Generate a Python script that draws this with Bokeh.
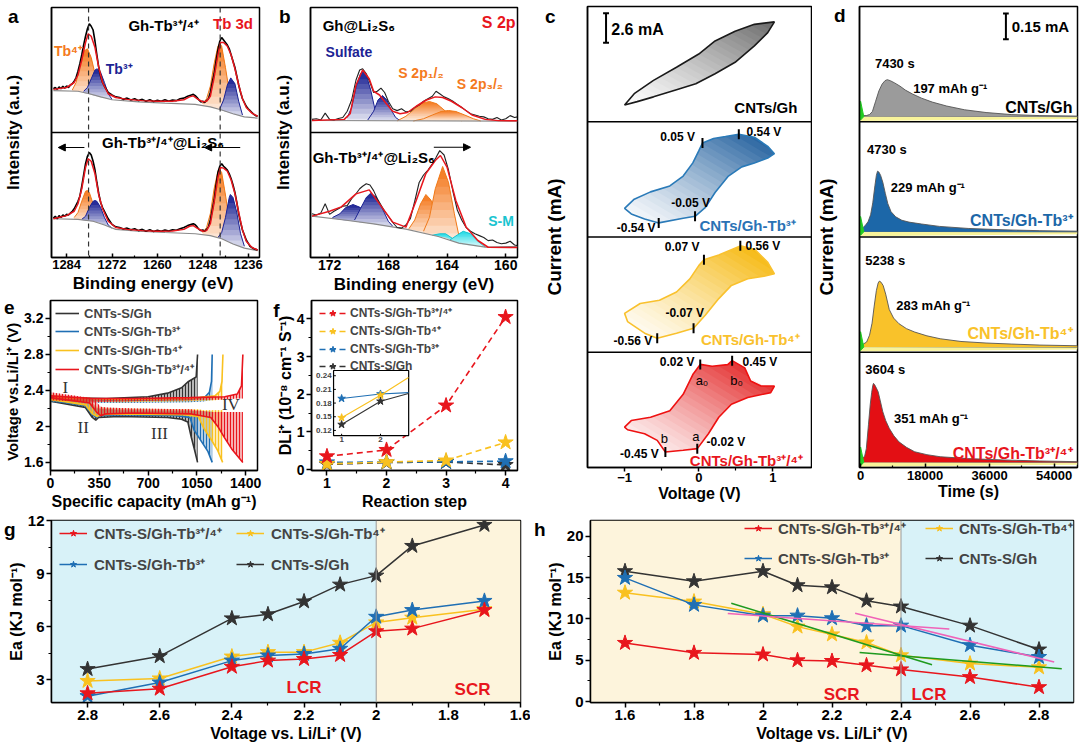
import math
from bokeh.plotting import figure
from bokeh.models import (Range1d, Span, Label, Legend, LegendItem, Arrow, NormalHead, FixedTicker,
                          LinearAxis)
from bokeh.layouts import row, column
from bokeh.embed import file_html
from bokeh.resources import INLINE

FONT = "Liberation Sans"
SERIF = "Liberation Serif"
RED = "#e8161d"; YEL = "#f9c11f"; BLU = "#1f6fb4"; BLK = "#333333"
ORANGE = "#f47a20"; NAVY = "#1c2394"; CYAN = "#25dbe6"

# ---------------- panel a (Tb 3d XPS) ----------------
A_BE_RAW = [1287.5, 1287, 1286.5, 1286, 1285.5, 1285, 1284.5, 1284, 1283.5, 1283,
            1282.5, 1282, 1281.5, 1281, 1280.5, 1280, 1279.5, 1279, 1278.5, 1278,
            1277.5, 1277, 1276.5, 1276, 1275.5, 1275, 1274.5, 1274, 1273, 1272,
            1271, 1270, 1269, 1268, 1267, 1266, 1265, 1264, 1263, 1262,
            1261, 1260, 1259, 1258, 1257, 1256, 1255, 1254, 1253, 1252,
            1251, 1250.5, 1250, 1249.5, 1249, 1248.5, 1248, 1247.5, 1247, 1246.5,
            1246, 1245.5, 1245, 1244.5, 1244, 1243.5, 1243, 1242.5, 1242, 1241.5,
            1241, 1240.5, 1240, 1239.5, 1239, 1238.5, 1238, 1237.5, 1237, 1236.5,
            1236, 1235.5, 1235, 1234.5, 1234, 1233.5]
A_TOP_RAW = [0.35, 0.36, 0.345, 0.365, 0.35, 0.37, 0.355, 0.372, 0.36, 0.38,
             0.39, 0.41, 0.44, 0.49, 0.55, 0.62, 0.70, 0.77, 0.83, 0.87,
             0.85, 0.82, 0.73, 0.62, 0.52, 0.45, 0.40, 0.37, 0.32, 0.30,
             0.285, 0.28, 0.265, 0.275, 0.26, 0.27, 0.255, 0.265, 0.25, 0.262,
             0.248, 0.258, 0.25, 0.262, 0.25, 0.26, 0.255, 0.27, 0.275, 0.29,
             0.30, 0.305, 0.295, 0.28, 0.26, 0.245, 0.25, 0.24, 0.255, 0.27,
             0.32, 0.40, 0.47, 0.57, 0.66, 0.73, 0.76, 0.74, 0.72, 0.70,
             0.67, 0.62, 0.57, 0.52, 0.45, 0.38, 0.32, 0.27, 0.24, 0.21,
             0.19, 0.175, 0.16, 0.145, 0.135, 0.13]
A_BOT_RAW = [0.315, 0.33, 0.31, 0.335, 0.32, 0.34, 0.33, 0.345, 0.34, 0.355,
             0.37, 0.39, 0.42, 0.45, 0.49, 0.57, 0.66, 0.75, 0.81, 0.84,
             0.82, 0.77, 0.70, 0.60, 0.51, 0.44, 0.40, 0.37, 0.31, 0.265,
             0.245, 0.24, 0.228, 0.235, 0.222, 0.23, 0.215, 0.225, 0.21, 0.222,
             0.208, 0.218, 0.21, 0.22, 0.212, 0.222, 0.218, 0.23, 0.24, 0.255,
             0.265, 0.27, 0.262, 0.245, 0.225, 0.215, 0.22, 0.21, 0.225, 0.245,
             0.30, 0.38, 0.46, 0.58, 0.68, 0.73, 0.75, 0.73, 0.715, 0.70,
             0.67, 0.63, 0.58, 0.52, 0.44, 0.35, 0.28, 0.22, 0.18, 0.14,
             0.115, 0.09, 0.08, 0.07, 0.065, 0.06]
A_BE_FIT = [1287.5, 1284, 1282, 1281, 1280, 1279, 1278.3, 1277.5, 1276.5, 1275.5, 1274.5, 1273,
            1271, 1268, 1264, 1260, 1256, 1253, 1251.5, 1250.5, 1249.5, 1248, 1247, 1246,
            1245, 1244, 1243.3, 1242.5, 1241.5, 1240.5, 1239.5, 1238.5, 1237.5, 1236.5, 1235, 1233.5]
A_TOP_FIT = [0.345, 0.36, 0.40, 0.46, 0.58, 0.72, 0.79, 0.77, 0.68, 0.52, 0.40, 0.31,
             0.28, 0.265, 0.255, 0.25, 0.25, 0.262, 0.285, 0.293, 0.27, 0.245, 0.25, 0.29,
             0.44, 0.62, 0.72, 0.72, 0.69, 0.62, 0.51, 0.38, 0.27, 0.2, 0.155, 0.13]
A_BOT_FIT = [0.31, 0.335, 0.37, 0.43, 0.55, 0.72, 0.79, 0.77, 0.67, 0.50, 0.39, 0.29,
             0.24, 0.225, 0.215, 0.21, 0.212, 0.225, 0.25, 0.255, 0.235, 0.21, 0.215, 0.27,
             0.44, 0.64, 0.72, 0.715, 0.69, 0.62, 0.51, 0.36, 0.22, 0.13, 0.08, 0.06]
A_BG_TOP_X = [1287.5, 1281, 1278, 1275, 1272, 1265, 1258, 1250, 1246, 1243, 1240, 1237, 1233.5]
A_BG_TOP_Y = [0.335, 0.33, 0.31, 0.285, 0.262, 0.245, 0.235, 0.225, 0.205, 0.18, 0.15, 0.125, 0.115]
A_BG_BOT_X = [1287.5, 1281, 1277, 1274, 1271, 1265, 1258, 1250, 1246, 1243, 1240, 1237, 1233.5]
A_BG_BOT_Y = [0.31, 0.305, 0.29, 0.26, 0.225, 0.21, 0.2, 0.19, 0.175, 0.15, 0.108, 0.075, 0.055]
A_T_TB4_1_X = [1282.5, 1281.5, 1280.5, 1279.5, 1278.5, 1277.5, 1276.5, 1275.5, 1274.5]
A_T_TB4_1_Y = [0.34, 0.40, 0.53, 0.65, 0.67, 0.60, 0.47, 0.36, 0.29]
A_T_TB4_1_B = [0.332, 0.33, 0.326, 0.318, 0.31, 0.302, 0.294, 0.285, 0.277]
A_T_TB3_1_X = [1279.5, 1278.5, 1277.5, 1276.5, 1275.9, 1275, 1274, 1273, 1272]
A_T_TB3_1_Y = [0.33, 0.36, 0.43, 0.50, 0.51, 0.48, 0.40, 0.31, 0.265]
A_T_TB3_1_B = [0.316, 0.31, 0.302, 0.294, 0.289, 0.283, 0.276, 0.27, 0.262]
A_T_TB4_2_X = [1248, 1247, 1246, 1245, 1244, 1243.5, 1243, 1242, 1241, 1240]
A_T_TB4_2_Y = [0.23, 0.27, 0.37, 0.55, 0.69, 0.715, 0.69, 0.52, 0.33, 0.16]
A_T_TB4_2_B = [0.218, 0.212, 0.205, 0.197, 0.188, 0.184, 0.18, 0.17, 0.16, 0.15]
A_T_TB3_2_X = [1243.5, 1242.5, 1241.5, 1240.6, 1239.5, 1238.5, 1237.5]
A_T_TB3_2_Y = [0.19, 0.26, 0.38, 0.437, 0.39, 0.25, 0.14]
A_T_TB3_2_B = [0.184, 0.173, 0.163, 0.152, 0.142, 0.133, 0.127]
A_B_TB4_1_X = [1282, 1281, 1280, 1279, 1278.5, 1278, 1277, 1276, 1275]
A_B_TB4_1_Y = [0.32, 0.36, 0.45, 0.53, 0.536, 0.52, 0.43, 0.33, 0.28]
A_B_TB4_1_B = [0.305, 0.303, 0.3, 0.296, 0.294, 0.292, 0.29, 0.28, 0.27]
A_B_TB3_1_X = [1280, 1279, 1278, 1277, 1276.5, 1276, 1275, 1274, 1273, 1272]
A_B_TB3_1_Y = [0.305, 0.33, 0.40, 0.45, 0.456, 0.45, 0.40, 0.32, 0.26, 0.235]
A_B_TB3_1_B = [0.3, 0.296, 0.292, 0.29, 0.288, 0.285, 0.275, 0.26, 0.245, 0.232]
A_B_TB4_2_X = [1248, 1247, 1246, 1245, 1244, 1243.7, 1243, 1242, 1241, 1240]
A_B_TB4_2_Y = [0.2, 0.24, 0.35, 0.55, 0.69, 0.71, 0.68, 0.5, 0.3, 0.15]
A_B_TB4_2_B = [0.185, 0.18, 0.175, 0.168, 0.158, 0.155, 0.15, 0.138, 0.122, 0.108]
A_B_TB3_2_X = [1244, 1243, 1242, 1241, 1240.7, 1240, 1239, 1238, 1237]
A_B_TB3_2_Y = [0.16, 0.2, 0.32, 0.48, 0.504, 0.48, 0.36, 0.19, 0.09]
A_B_TB3_2_B = [0.158, 0.15, 0.138, 0.122, 0.115, 0.108, 0.095, 0.085, 0.075]
A_PEAK_LINES = [1278.2, 1243.4]

# ---------------- panel b (S 2p XPS) ----------------
B_BE_RAW = [173.2, 172.9, 172.6, 172.3, 172.0, 171.7, 171.4, 171.1, 170.8, 170.5,
            170.2, 169.95, 169.75, 169.5, 169.25, 169.0, 168.75, 168.5, 168.25, 168.0,
            167.7, 167.4, 167.1, 166.8, 166.5, 166.2, 165.9, 165.6, 165.3, 165.0,
            164.75, 164.5, 164.2, 163.9, 163.6, 163.3, 163.0, 162.7, 162.4, 162.1,
            161.8, 161.5, 161.2, 160.9, 160.6, 160.3, 160.0, 159.7, 159.4, 159.2]
B_TOP_RAW = [0.105, 0.11, 0.1, 0.155, 0.105, 0.1, 0.112, 0.12, 0.17, 0.26,
             0.42, 0.5, 0.51, 0.47, 0.4, 0.32, 0.33, 0.355, 0.32, 0.25,
             0.19, 0.175, 0.19, 0.165, 0.17, 0.2, 0.22, 0.25, 0.27, 0.29,
             0.33, 0.31, 0.285, 0.27, 0.25, 0.225, 0.2, 0.175, 0.15, 0.14,
             0.13, 0.125, 0.11, 0.105, 0.12, 0.1, 0.11, 0.135, 0.12, 0.125]
B_BOT_RAW = [0.35, 0.34, 0.355, 0.43, 0.345, 0.37, 0.39, 0.41, 0.415, 0.47,
             0.51, 0.55, 0.57, 0.59, 0.58, 0.535, 0.47, 0.42, 0.37, 0.33,
             0.28, 0.24, 0.235, 0.26, 0.31, 0.45, 0.6, 0.66, 0.7, 0.75,
             0.8, 0.855, 0.82, 0.7, 0.53, 0.38, 0.3, 0.24, 0.21, 0.19,
             0.175, 0.16, 0.135, 0.14, 0.12, 0.11, 0.115, 0.13, 0.1, 0.095]
B_BE_FIT_TOP = [173.2, 171.0, 170.6, 170.2, 169.75, 169.3, 169.0, 168.6, 168.2, 167.7, 167.2,
                166.7, 166.1, 165.4, 164.8, 164.3, 163.7, 163.0, 162.3, 161.4, 160.5, 159.2]
B_TOP_FIT = [0.096, 0.105, 0.15, 0.38, 0.5, 0.43, 0.33, 0.3, 0.24, 0.17, 0.15,
             0.16, 0.21, 0.26, 0.285, 0.28, 0.25, 0.2, 0.14, 0.105, 0.095, 0.094]
B_BE_FIT_BOT = [173.2, 172.0, 171.2, 170.2, 169.3, 168.6, 167.7, 166.8, 166.1, 165.45, 164.8,
                164.45, 164.0, 163.4, 162.7, 161.9, 161.2, 159.2]
B_BOT_FIT = [0.331, 0.37, 0.405, 0.509, 0.541, 0.429, 0.283, 0.243, 0.456, 0.669, 0.776,
             0.816, 0.723, 0.456, 0.243, 0.136, 0.082, 0.08]
B_BG_TOP_X = [173.2, 159.2]
B_BG_TOP_Y = [0.096, 0.09]
B_BG_BOT_X = [173.2, 171, 169, 166.8, 164.6, 163.2, 161.4, 159.2]
B_BG_BOT_Y = [0.331, 0.3, 0.269, 0.227, 0.168, 0.115, 0.083, 0.088]
B_T_SUL1_X = [170.8, 170.5, 170.2, 169.9, 169.7, 169.5, 169.2, 168.9, 168.6]
B_T_SUL1_Y = [0.12, 0.2, 0.36, 0.47, 0.49, 0.46, 0.34, 0.18, 0.1]
B_T_SUL1_B = [0.095, 0.095, 0.095, 0.095, 0.095, 0.095, 0.094, 0.094, 0.094]
B_T_SUL2_X = [169.4, 169.0, 168.7, 168.4, 168.1, 167.8, 167.5, 167.2]
B_T_SUL2_Y = [0.1, 0.17, 0.26, 0.296, 0.26, 0.18, 0.12, 0.095]
B_T_SUL2_B = [0.094, 0.094, 0.094, 0.094, 0.094, 0.094, 0.094, 0.094]
B_T_S12_X = [167.4, 166.8, 166.2, 165.7, 165.2, 164.7, 164.2, 163.6, 163.0]
B_T_S12_Y = [0.093, 0.13, 0.19, 0.235, 0.248, 0.23, 0.18, 0.12, 0.093]
B_T_S12_B = [0.093, 0.093, 0.093, 0.093, 0.093, 0.092, 0.092, 0.092, 0.092]
B_T_S32_X = [166.3, 165.6, 165.0, 164.4, 163.9, 163.4, 162.8, 162.2, 161.7]
B_T_S32_Y = [0.092, 0.11, 0.14, 0.168, 0.176, 0.168, 0.14, 0.11, 0.092]
B_T_S32_B = [0.092, 0.092, 0.092, 0.092, 0.092, 0.092, 0.091, 0.091, 0.091]
B_B_SUL1_X = [171.8, 171.3, 170.9, 170.4, 169.9, 169.4, 168.9, 168.3]
B_B_SUL1_Y = [0.32, 0.35, 0.40, 0.424, 0.40, 0.34, 0.29, 0.26]
B_B_SUL1_B = [0.312, 0.303, 0.297, 0.29, 0.283, 0.275, 0.267, 0.256]
B_B_SUL2_X = [170.3, 169.9, 169.5, 169.2, 168.8, 168.4, 168.0, 167.7]
B_B_SUL2_Y = [0.3, 0.39, 0.48, 0.515, 0.48, 0.39, 0.29, 0.25]
B_B_SUL2_B = [0.288, 0.283, 0.277, 0.271, 0.264, 0.256, 0.248, 0.243]
B_B_S1_X = [166.6, 166.2, 165.8, 165.44, 165.1, 164.7, 164.4, 164.1]
B_B_S1_Y = [0.23, 0.3, 0.43, 0.504, 0.46, 0.33, 0.22, 0.17]
B_B_S1_B = [0.227, 0.218, 0.207, 0.197, 0.19, 0.18, 0.173, 0.165]
B_B_S2_X = [165.6, 165.2, 164.8, 164.3, 163.9, 163.5, 163.2, 162.9]
B_B_S2_Y = [0.21, 0.32, 0.55, 0.728, 0.6, 0.35, 0.18, 0.11]
B_B_S2_B = [0.195, 0.186, 0.177, 0.165, 0.148, 0.13, 0.115, 0.105]
B_B_SM1_X = [165.0, 164.5, 164.1, 163.6, 163.1]
B_B_SM1_Y = [0.178, 0.19, 0.19, 0.15, 0.11]
B_B_SM1_B = [0.178, 0.168, 0.16, 0.135, 0.11]
B_B_SM2_X = [163.8, 163.3, 162.9, 162.4, 161.9, 161.4]
B_B_SM2_Y = [0.14, 0.18, 0.21, 0.19, 0.13, 0.083]
B_B_SM2_B = [0.14, 0.12, 0.105, 0.095, 0.088, 0.083]

# ---------------- panel c (CV loops, V vs mA) ----------------
C_GH_V = [-1.0, -0.87, -0.61, -0.30, 0.0, 0.22, 0.49, 0.75, 1.02, 0.93, 0.75, 0.49, 0.22, -0.04, -0.30, -0.61, -0.83]
C_GH_I = [-3.6, -2.6, -1.43, -0.28, 0.89, 2.04, 2.9, 3.5, 3.72, 2.77, 1.6, 0.16, -0.85, -1.72, -2.25, -2.88, -3.3]
C_T3_V = [-1.0, -0.87, -0.65, -0.39, -0.21, -0.08, 0.0, 0.05, 0.2, 0.36, 0.54, 0.75, 0.93, 1.02,
          0.93, 0.75, 0.58, 0.40, 0.22, 0.09, -0.05, -0.21, -0.54, -0.73, -0.91]
C_T3_I = [-2.55, -1.74, -1.1, -0.58, 0.29, 1.45, 2.5, 3.2, 3.6, 3.77, 3.97, 3.71, 2.9, 2.26,
          1.88, 1.45, 1.1, 0.29, -1.16, -2.46, -3.25, -3.42, -3.83, -3.48, -3.04]
C_T3_MK_V = [0.05, 0.54, -0.05, -0.54]
C_T3_MK_I = [3.2, 3.97, -3.25, -3.83]
C_T4_V = [-1.0, -0.79, -0.53, -0.30, -0.12, 0.0, 0.07, 0.27, 0.56, 0.75, 0.93, 1.02,
          0.88, 0.66, 0.44, 0.27, 0.09, -0.07, -0.30, -0.56, -0.73, -0.96]
C_T4_I = [-1.65, -0.78, -0.5, 0.23, 1.39, 2.55, 3.07, 3.48, 4.29, 4.0, 2.84, 1.83,
          1.63, 1.39, 0.81, -0.35, -1.8, -2.96, -3.39, -3.83, -3.39, -2.37]
C_T4_MK_V = [0.07, 0.56, -0.07, -0.56]
C_T4_MK_I = [3.07, 4.29, -2.96, -3.83]
C_T34_V = [-1.0, -0.91, -0.65, -0.39, -0.21, -0.08, 0.02, 0.18, 0.39, 0.45, 0.62, 0.70, 0.84, 1.02,
           0.97, 0.66, 0.44, 0.27, 0.13, -0.02, -0.21, -0.45, -0.56, -0.73, -0.96]
C_T34_I = [-1.52, -0.94, -0.65, -0.07, 1.37, 3.11, 4.0, 3.84, 3.98, 4.33, 3.7, 2.54, 2.1, 2.1,
           1.52, 1.09, 0.5, -0.65, -2.1, -3.41, -3.55, -3.7, -2.68, -2.1, -1.75]
C_T34_MK_V = [0.02, 0.45, -0.02, -0.45]
C_T34_MK_I = [4.0, 4.33, -3.41, -3.7]
C_BAND = (-5.07, 5.07)
C_SCALE_V, C_SCALE_I0, C_SCALE_LEN = -1.25, 1.87, 2.6

# ---------------- panel d (chronoamperometry) ----------------
D_GH_T = [0, 800, 1600, 2500, 3300, 4200, 5100, 6000, 6800, 7430, 8300, 9500, 11000, 12500, 14500,
          17000, 20000, 24000, 29000, 35000, 42000, 50000, 60500]
D_GH_I = [0.012, 0.006, 0.006, 0.012, 0.03, 0.09, 0.15, 0.19, 0.21, 0.216, 0.21, 0.197, 0.178, 0.155,
          0.132, 0.108, 0.085, 0.062, 0.04, 0.024, 0.012, 0.006, 0.003]
D_T3_T = [0, 700, 1400, 2100, 2800, 3400, 4000, 4400, 4730, 5100, 5600, 6200, 6900, 7600, 8500, 9800,
          11500, 13500, 17000, 22000, 30000, 40000, 50000, 60500]
D_T3_I = [0.012, 0.025, 0.04, 0.06, 0.1, 0.17, 0.27, 0.33, 0.355, 0.35, 0.33, 0.29, 0.225, 0.165, 0.118,
          0.088, 0.068, 0.057, 0.046, 0.032, 0.02, 0.012, 0.007, 0.004]
D_T4_T = [0, 800, 1700, 2500, 3200, 3800, 4400, 4900, 5238, 5700, 6300, 7000, 8000, 9200, 10700, 12800,
          15100, 18500, 22200, 28000, 35000, 42000, 50000, 60500]
D_T4_I = [0.012, 0.018, 0.03, 0.07, 0.14, 0.24, 0.33, 0.375, 0.386, 0.38, 0.36, 0.31, 0.22, 0.17, 0.137,
          0.108, 0.088, 0.066, 0.049, 0.033, 0.024, 0.018, 0.012, 0.008]
D_T34_T = [0, 600, 1100, 1600, 2200, 2700, 3100, 3400, 3604, 3900, 4400, 4900, 5500, 6200, 7000, 8000,
           9300, 10700, 12800, 15100, 18500, 22200, 30000, 40000, 50000, 60500]
D_T34_I = [0.02, 0.028, 0.033, 0.08, 0.22, 0.34, 0.41, 0.45, 0.462, 0.455, 0.435, 0.413, 0.36, 0.296,
           0.245, 0.199, 0.155, 0.12, 0.088, 0.062, 0.045, 0.033, 0.022, 0.014, 0.008, 0.004]
D_STRIP_T = [0, 60500]
D_STRIP_LO = [-0.026, -0.014]
D_STRIP_HI = [0.003, 0.0]
D_SPIKE_T = [0, 0, 900]
D_SPIKE_I = [-0.02, 0.09, 0.0]
D_BAND = (-0.03, 0.644)
D_SCALE_T, D_SCALE_I0, D_SCALE_LEN = 40533, 0.453, 0.15

# ---------------- panel e (GITT) ----------------
E_GH_DIS_CAP = [0, 250, 300, 325, 345, 490, 840, 940, 985, 1010, 1035, 1055]
E_GH_DIS_CCV = [2.28, 2.21, 2.1, 2.07, 2.1, 2.11, 2.1, 2.08, 2.05, 1.88, 1.73, 1.6]
E_GH_DIS_OCV = [2.34, 2.3, 2.25, 2.2, 2.2, 2.18, 2.17, 2.17, 2.17, 2.17, 2.17, 2.17]
E_GH_CHG_CAP = [0, 400, 700, 840, 940, 990, 1045, 1055]
E_GH_CHG_CCV = [2.32, 2.31, 2.33, 2.37, 2.43, 2.5, 2.55, 2.8]
E_GH_CHG_OCV = [2.28, 2.28, 2.29, 2.3, 2.3, 2.31, 2.31, 2.31]
E_T3_DIS_CAP = [0, 250, 300, 330, 350, 500, 900, 1000, 1030, 1080, 1130, 1160]
E_T3_DIS_CCV = [2.29, 2.23, 2.13, 2.1, 2.12, 2.13, 2.12, 2.1, 1.96, 1.84, 1.72, 1.6]
E_T3_DIS_OCV = [2.35, 2.31, 2.26, 2.21, 2.2, 2.19, 2.18, 2.18, 2.17, 2.17, 2.17, 2.17]
E_T3_CHG_CAP = [0, 500, 1000, 1110, 1140, 1155, 1160]
E_T3_CHG_CCV = [2.31, 2.29, 2.3, 2.33, 2.38, 2.5, 2.8]
E_T3_CHG_OCV = [2.27, 2.26, 2.27, 2.28, 2.29, 2.29, 2.29]
E_T4_DIS_CAP = [0, 250, 300, 335, 355, 500, 950, 1060, 1100, 1150, 1200, 1235]
E_T4_DIS_CCV = [2.3, 2.24, 2.14, 2.11, 2.13, 2.14, 2.13, 2.11, 1.98, 1.86, 1.73, 1.6]
E_T4_DIS_OCV = [2.36, 2.31, 2.26, 2.22, 2.21, 2.2, 2.19, 2.19, 2.18, 2.18, 2.18, 2.18]
E_T4_CHG_CAP = [0, 500, 1000, 1180, 1215, 1230, 1237]
E_T4_CHG_CCV = [2.32, 2.3, 2.31, 2.34, 2.39, 2.5, 2.8]
E_T4_CHG_OCV = [2.28, 2.27, 2.28, 2.29, 2.3, 2.3, 2.3]
E_T34_DIS_CAP = [0, 280, 330, 360, 400, 600, 1000, 1150, 1200, 1250, 1300, 1380]
E_T34_DIS_CCV = [2.32, 2.26, 2.16, 2.12, 2.14, 2.15, 2.14, 2.1, 2.0, 1.87, 1.75, 1.6]
E_T34_DIS_OCV = [2.38, 2.32, 2.27, 2.22, 2.21, 2.2, 2.19, 2.16, 2.16, 2.16, 2.16, 2.16]
E_T34_CHG_CAP = [0, 300, 600, 1000, 1250, 1340, 1370, 1380]
E_T34_CHG_CCV = [2.34, 2.31, 2.31, 2.32, 2.33, 2.36, 2.45, 2.8]
E_T34_CHG_OCV = [2.29, 2.27, 2.28, 2.29, 2.3, 2.31, 2.31, 2.31]

# ---------------- panel f (diffusion coefficient) ----------------
F_STEP = [1, 2, 3, 4]
F_T34 = [0.35, 0.52, 1.7, 4.05]
F_T4 = [0.15, 0.197, 0.24, 0.72]
F_T3 = [0.19, 0.2, 0.205, 0.22]
F_GH = [0.135, 0.185, 0.2, 0.12]
F_INSET_X = [1, 2, 2.72]
F_INSET_T3 = [0.19, 0.2, 0.203]
F_INSET_T4 = [0.148, 0.197, 0.236]
F_INSET_GH = [0.133, 0.184, 0.201]
F_INSET_YTICKS = [0.12, 0.15, 0.18, 0.21, 0.24]
F_INSET_XTICKS = [1, 2]
F_INSET_BOX = (0.7925, 2.725, 0.1086, 0.2514)

# ---------------- panel g / h (activation energy) ----------------
G_V = [2.8, 2.6, 2.4, 2.3, 2.2, 2.1, 2.0, 1.9, 1.7]
G_GH = [3.61, 4.34, 6.48, 6.71, 7.44, 8.39, 8.9, 10.58, 11.77]
G_T3 = [2.08, 2.85, 4.09, 4.38, 4.47, 4.76, 6.57, 6.95, 7.47]
G_T4 = [2.94, 3.08, 4.32, 4.57, 4.57, 5.1, 6.25, 6.52, 7.0]
G_T34 = [2.24, 2.5, 3.74, 4.09, 4.18, 4.41, 5.75, 5.9, 6.95]
G_REGION_EDGES = [2.9, 2.0, 1.6]
H_V = [1.6, 1.8, 2.0, 2.1, 2.2, 2.3, 2.4, 2.6, 2.8]
H_GH = [15.77, 14.55, 15.77, 14.07, 13.82, 12.2, 11.5, 9.19, 6.3]
H_T3 = [14.96, 11.7, 10.4, 10.4, 10.08, 9.19, 9.19, 6.83, 5.4]
H_T4 = [13.17, 12.1, 10.57, 9.07, 8.13, 7.15, 5.6, 4.6, 4.15]
H_T34 = [7.1, 5.9, 5.7, 5.0, 4.92, 4.39, 3.9, 2.97, 1.75]
H_REGION_EDGES = [1.5, 2.4, 2.9]
H_FIT_GREEN = [([1.908, 2.49], [11.9, 4.47]), ([2.28, 2.866], [5.93, 3.98])]
H_FIT_PINK = [([1.898, 2.54], [10.65, 8.78]), ([2.267, 2.844], [10.69, 4.8])]

LBL_T34 = "CNTs-S/Gh-Tb³⁺/⁴⁺"
LBL_T4 = "CNTs-S/Gh-Tb⁴⁺"
LBL_T3 = "CNTs-S/Gh-Tb³⁺"
LBL_GH = "CNTs-S/Gh"


# ---------------- helpers ----------------
def mix(hexcol, f):
    h = hexcol.lstrip("#")
    r, g, b = int(h[0:2], 16), int(h[2:4], 16), int(h[4:6], 16)
    f = max(0.0, min(1.0, f))
    return "#%02x%02x%02x" % (round(255 + (r - 255) * f), round(255 + (g - 255) * f), round(255 + (b - 255) * f))


def clip(pts, a, b, c):
    out = []
    n = len(pts)
    for k in range(n):
        P = pts[k]
        Q = pts[(k + 1) % n]
        fp = a * P[0] + b * P[1] - c
        fq = a * Q[0] + b * Q[1] - c
        if fp <= 0:
            out.append(P)
        if (fp < 0 < fq) or (fq < 0 < fp):
            s = fp / (fp - fq)
            out.append((P[0] + s * (Q[0] - P[0]), P[1] + s * (Q[1] - P[1])))
    return out


def gradient_fill(p, xs, ys, color, mode, n, yname="default", fmin=0.0, fmax=1.0, gamma=1.0):
    xmin, xmax, ymin, ymax = min(xs), max(xs), min(ys), max(ys)
    dx, dy = xmax - xmin, ymax - ymin
    pts = [((x - xmin) / dx, (y - ymin) / dy) for x, y in zip(xs, ys)]
    PX, PY, COL = [], [], []
    for k in range(n):
        t0, t1 = k / n, (k + 1) / n
        t0e = max(0.0, t0 - 0.6 / n)
        if mode == "diag":
            q = clip(pts, -1, -1, -2 * t0e)
            q = clip(q, 1, 1, 2 * t1)
        else:
            q = clip(pts, 0, -1, -t0e)
            q = clip(q, 0, 1, t1)
        if len(q) < 3:
            continue
        PX.append([xmin + u * dx for u, w in q])
        PY.append([ymin + w * dy for u, w in q])
        COL.append(mix(color, fmin + (fmax - fmin) * (((t0 + t1) / 2) ** gamma)))
    p.patches(xs=PX, ys=PY, fill_color=COL, line_color=None, y_range_name=yname)


def peak(p, x, top, base, color, line_col, yname):
    gradient_fill(p, x + x[::-1], top + base[::-1], color, "vert", 10, yname, fmin=0.06, fmax=1.0)
    p.line(x, top, line_color=line_col, line_width=1, y_range_name=yname)


def band_range(lo, hi, k, n=4):
    s = hi - lo
    return Range1d(lo - (n - 1 - k) * s, hi + k * s)


def base_fig(w, h, xr, yr, bl, br, bt, bb):
    p = figure(width=w, height=h, x_range=xr, y_range=yr, output_backend="svg", toolbar_location=None,
               min_border_left=bl, min_border_right=br, min_border_top=bt, min_border_bottom=bb)
    p.grid.visible = False
    p.outline_line_color = "black"
    p.outline_line_width = 1.5
    p.outline_line_alpha = 1.0
    return p


def style_axes(p, tick_size, label_size, xlabel, ylabel, xticks, xminor, yticks, yminor,
               tick_in=False, xstand=2, ystand=2, ylabel_size=None, tick_out=5, lab_standoff=2):
    xa, ya = p.xaxis[0], p.yaxis[0]
    xa.ticker = FixedTicker(ticks=xticks, minor_ticks=xminor)
    ya.ticker = FixedTicker(ticks=yticks, minor_ticks=yminor)
    for ax in (xa, ya):
        ax.axis_line_width = 1.5
        ax.axis_line_color = "black"
        ax.major_tick_line_width = 1.5
        ax.minor_tick_line_width = 1.2
        ax.major_label_text_font = FONT
        ax.major_label_text_font_style = "bold"
        ax.major_label_text_font_size = tick_size
        ax.major_label_text_color = "black"
        ax.axis_label_text_font = FONT
        ax.axis_label_text_font_style = "bold"
        ax.axis_label_text_font_size = label_size
        ax.axis_label_text_color = "black"
        ax.major_label_standoff = lab_standoff
        if tick_in:
            ax.major_tick_in, ax.major_tick_out = 4, 0
            ax.minor_tick_in, ax.minor_tick_out = 2, 0
        else:
            ax.major_tick_in, ax.major_tick_out = 0, tick_out
            ax.minor_tick_in, ax.minor_tick_out = 0, 3
    if ylabel_size:
        ya.axis_label_text_font_size = ylabel_size
    xa.axis_label = xlabel
    ya.axis_label = ylabel
    xa.axis_label_standoff = xstand
    ya.axis_label_standoff = ystand


def letter_main(p, ch, yval, standoff, label_standoff):
    # panel letter drawn as the only tick label of an otherwise tick-less y axis
    ya = p.yaxis[0]
    ya.ticker = FixedTicker(ticks=[yval], minor_ticks=[])
    ya.major_label_overrides = {yval: ch}
    ya.major_tick_line_color = None
    ya.minor_tick_line_color = None
    ya.major_tick_in, ya.major_tick_out = 0, 0
    ya.minor_tick_in, ya.minor_tick_out = 0, 0
    ya.major_label_text_font_size = "19px"
    ya.major_label_standoff = standoff
    ya.axis_label_standoff = label_standoff


def letter_outer(p, ch, yval, pull):
    # panel letter drawn by an extra, otherwise empty, outer y axis
    ax = LinearAxis(ticker=FixedTicker(ticks=[yval], minor_ticks=[]), major_label_overrides={yval: ch},
                    axis_line_color=None, major_tick_line_color=None, minor_tick_line_color=None,
                    major_tick_in=0, major_tick_out=0, minor_tick_in=0, minor_tick_out=0,
                    major_label_standoff=-pull, major_label_text_font=FONT,
                    major_label_text_font_style="bold", major_label_text_font_size="19px",
                    major_label_text_color="black")
    p.add_layout(ax, "left")


def lab(p, x, y, text, size=13, color="black", align="left", yname="default", style="bold", font=FONT):
    p.add_layout(Label(x=x, y=y, text=text, text_font=font, text_font_size="%dpx" % size,
                       text_font_style=style, text_color=color, text_align=align,
                       text_baseline="middle", y_range_name=yname))


def legend(p, items, loc, orient="vertical", size="15px", gw=28, gh=16, lw=20, spacing=2, standoff=6,
           line_height=1.2):
    lg = Legend(items=items, location=loc, orientation=orient, label_text_font=FONT,
                label_text_font_style="bold", label_text_font_size=size, glyph_width=gw,
                glyph_height=gh, label_height=gh, label_width=lw, spacing=spacing, padding=0,
                margin=0, label_standoff=standoff, background_fill_alpha=0, border_line_alpha=0,
                label_text_line_height=line_height)
    p.add_layout(lg)


def divider(p, loc):
    p.add_layout(Span(location=loc, dimension="width", line_color="black", line_width=1.5))


# ================= panel a =================
pa = base_fig(270, 298, Range1d(1288, 1233), Range1d(0, 2), 48, 11, 7, 41)
pa.extra_y_ranges = {"top": Range1d(-1, 1)}
for (x, t, b, c, lc, yn) in [
        (A_T_TB4_1_X, A_T_TB4_1_Y, A_T_TB4_1_B, ORANGE, "#f07a1a", "top"),
        (A_T_TB3_1_X, A_T_TB3_1_Y, A_T_TB3_1_B, NAVY, NAVY, "top"),
        (A_T_TB4_2_X, A_T_TB4_2_Y, A_T_TB4_2_B, ORANGE, "#f07a1a", "top"),
        (A_T_TB3_2_X, A_T_TB3_2_Y, A_T_TB3_2_B, NAVY, NAVY, "top"),
        (A_B_TB4_1_X, A_B_TB4_1_Y, A_B_TB4_1_B, ORANGE, "#f07a1a", "default"),
        (A_B_TB3_1_X, A_B_TB3_1_Y, A_B_TB3_1_B, NAVY, NAVY, "default"),
        (A_B_TB4_2_X, A_B_TB4_2_Y, A_B_TB4_2_B, ORANGE, "#f07a1a", "default"),
        (A_B_TB3_2_X, A_B_TB3_2_Y, A_B_TB3_2_B, NAVY, NAVY, "default")]:
    peak(pa, x, t, b, c, lc, yn)
pa.line(A_BG_TOP_X, A_BG_TOP_Y, line_color="#8a8a8a", line_width=1.2, y_range_name="top")
pa.line(A_BG_BOT_X, A_BG_BOT_Y, line_color="#8a8a8a", line_width=1.2)
pa.line(A_BE_RAW, A_TOP_RAW, line_color="black", line_width=1.6, y_range_name="top")
pa.line(A_BE_RAW, A_BOT_RAW, line_color="black", line_width=1.6)
pa.line(A_BE_FIT, A_TOP_FIT, line_color=RED, line_width=1.5, y_range_name="top")
pa.line(A_BE_FIT, A_BOT_FIT, line_color=RED, line_width=1.5)
for loc in A_PEAK_LINES:
    pa.add_layout(Span(location=loc, dimension="height", line_color="#333333", line_width=1.2, line_dash="5 4"))
divider(pa, 1)
style_axes(pa, "13px", "17px", "Binding energy  (eV)", "Intensity (a.u.)",
           [1284, 1272, 1260, 1248, 1236], [1278, 1266, 1254, 1242], [], [], tick_in=True)
letter_main(pa, "a", 1.928, 33, -18)
lab(pa, 1283.5, 0.656, "Tb⁴⁺", 14, ORANGE, "center", "top")
lab(pa, 1270.1, 0.51, "Tb³⁺", 14, NAVY, "center", "top")
lab(pa, 1258.3, 0.856, "Gh-Tb³⁺/⁴⁺", 15, "black", "center", "top")
lab(pa, 1240.0, 0.87, "Tb 3d", 15, RED, "center", "top")
lab(pa, 1258.5, 0.922, "Gh-Tb³⁺/⁴⁺@Li₂S₆", 15, "black", "center")
for xs, xe in [(1279.3, 1286.2), (1238.1, 1247.5)]:
    pa.add_layout(Arrow(end=NormalHead(size=7, fill_color="black", line_color="black"),
                        x_start=xs, y_start=0.88, x_end=xe, y_end=0.88, line_width=1.2))

# ================= panel b =================
pb = base_fig(270, 298, Range1d(173.3, 159.2), Range1d(0, 2), 36, 23, 7, 41)
pb.extra_y_ranges = {"top": Range1d(-1, 1)}
for (x, t, b, c, lc, yn) in [
        (B_T_SUL1_X, B_T_SUL1_Y, B_T_SUL1_B, NAVY, NAVY, "top"),
        (B_T_SUL2_X, B_T_SUL2_Y, B_T_SUL2_B, NAVY, NAVY, "top"),
        (B_T_S12_X, B_T_S12_Y, B_T_S12_B, ORANGE, "#f07a1a", "top"),
        (B_T_S32_X, B_T_S32_Y, B_T_S32_B, ORANGE, "#f07a1a", "top"),
        (B_B_SUL1_X, B_B_SUL1_Y, B_B_SUL1_B, NAVY, NAVY, "default"),
        (B_B_SUL2_X, B_B_SUL2_Y, B_B_SUL2_B, NAVY, NAVY, "default"),
        (B_B_S1_X, B_B_S1_Y, B_B_S1_B, ORANGE, "#f07a1a", "default"),
        (B_B_S2_X, B_B_S2_Y, B_B_S2_B, ORANGE, "#f07a1a", "default"),
        (B_B_SM1_X, B_B_SM1_Y, B_B_SM1_B, CYAN, "#19c4d0", "default"),
        (B_B_SM2_X, B_B_SM2_Y, B_B_SM2_B, CYAN, "#19c4d0", "default")]:
    peak(pb, x, t, b, c, lc, yn)
pb.line(B_BG_TOP_X, B_BG_TOP_Y, line_color="#8a8a8a", line_width=1.2, y_range_name="top")
pb.line(B_BG_BOT_X, B_BG_BOT_Y, line_color="#8a8a8a", line_width=1.2)
pb.line(B_BE_RAW, B_TOP_RAW, line_color="#222222", line_width=1.1, y_range_name="top")
pb.line(B_BE_RAW, B_BOT_RAW, line_color="#222222", line_width=1.1)
pb.line(B_BE_FIT_TOP, B_TOP_FIT, line_color=RED, line_width=1.5, y_range_name="top")
pb.line(B_BE_FIT_BOT, B_BOT_FIT, line_color=RED, line_width=1.5)
divider(pb, 1)
style_axes(pb, "14px", "17px", "Binding energy (eV)", "Intensity (a.u.)",
           [172, 168, 164, 160], [170, 166, 162], [], [], tick_in=True)
letter_main(pb, "b", 1.928, 20, -17)
lab(pb, 172.47, 0.856, "Gh@Li₂S₆", 15, "black", "left", "top")
lab(pb, 159.33, 0.88, "S 2p", 16, RED, "right", "top")
lab(pb, 172.27, 0.648, "Sulfate", 14, NAVY, "left", "top")
lab(pb, 167.33, 0.48, "S 2p₁/₂", 14, ORANGE, "left", "top")
lab(pb, 163.33, 0.392, "S 2p₃/₂", 14, ORANGE, "left", "top")
lab(pb, 173.15, 0.8, "Gh-Tb³⁺/⁴⁺@Li₂S₆", 15, "black", "left")
lab(pb, 161.2, 0.296, "S-M", 14, "#19c4d0", "left")
pb.add_layout(Arrow(end=NormalHead(size=7, fill_color="black", line_color="black"),
                    x_start=164.9, y_start=0.882, x_end=162.4, y_end=0.882, line_width=1.2))

# ================= panel c =================
pc = base_fig(272, 512, Range1d(-1.5, 1.52), Range1d(0, 4), 42, 1, 5, 41)
pc.extra_y_ranges = {"c%d" % k: band_range(C_BAND[0], C_BAND[1], k) for k in range(4)}
c_loops = [(C_GH_V, C_GH_I, "#6e6e6e", "#1a1a1a", None, None),
           (C_T3_V, C_T3_I, "#1a5a9a", "#2a7ab8", C_T3_MK_V, C_T3_MK_I),
           (C_T4_V, C_T4_I, "#f5b400", "#f9c12e", C_T4_MK_V, C_T4_MK_I),
           (C_T34_V, C_T34_I, "#e01010", "#ee1111", C_T34_MK_V, C_T34_MK_I)]
for k, (v, i, fc, lc, mv, mi) in enumerate(c_loops):
    yn = "c%d" % k
    gradient_fill(pc, v, i, fc, "diag", 26, yn, fmin=0.0, fmax=1.0, gamma=1.3)
    pc.patch(v, i, fill_alpha=0, line_color=lc, line_width=1.6, y_range_name=yn)
    if mv:
        pc.scatter(mv, mi, marker="dash", angle=math.pi / 2, size=10, line_color="black",
                   line_width=2, y_range_name=yn)
for loc in (1, 2, 3):
    divider(pc, loc)
pc.segment(x0=[C_SCALE_V, C_SCALE_V - 0.04, C_SCALE_V - 0.04],
           y0=[C_SCALE_I0, C_SCALE_I0, C_SCALE_I0 + C_SCALE_LEN],
           x1=[C_SCALE_V, C_SCALE_V + 0.04, C_SCALE_V + 0.04],
           y1=[C_SCALE_I0 + C_SCALE_LEN, C_SCALE_I0, C_SCALE_I0 + C_SCALE_LEN],
           line_color="black", line_width=2, y_range_name="c0")
style_axes(pc, "13px", "16px", "Voltage (V)", "Current (mA)", [-1, 0, 1], [-0.5, 0.5], [], [],
           xstand=0, ylabel_size="19px", tick_out=4, lab_standoff=1)
letter_main(pc, "c", 3.914, 32, -23)
lab(pc, C_SCALE_V + 0.07, C_SCALE_I0 + C_SCALE_LEN / 2 - 0.1, "2.6 mA", 16, "black", "left", "c0")
lab(pc, 1.33, -3.8, "CNTs/Gh", 15, "black", "right", "c0")
lab(pc, -0.05, 3.7, "0.05 V", 12, "black", "right", "c1")
lab(pc, 0.645, 4.15, "0.54 V", 12, "black", "left", "c1")
lab(pc, -0.37, -2.1, "-0.05 V", 12, "black", "left", "c1")
lab(pc, -0.583, -4.3, "-0.54 V", 12, "black", "right", "c1")
lab(pc, 0.009, -4.1, "CNTs/Gh-Tb³⁺", 15, "#2a72b5", "left", "c1")
lab(pc, 0.009, 4.2, "0.07 V", 12, "black", "right", "c2")
lab(pc, 0.63, 4.3, "0.56 V", 12, "black", "left", "c2")
lab(pc, -0.45, -1.63, "-0.07 V", 12, "black", "left", "c2")
lab(pc, -0.627, -4.1, "-0.56 V", 12, "black", "right", "c2")
lab(pc, 0.03, -3.95, "CNTs/Gh-Tb⁴⁺", 15, "#f9c12e", "left", "c2")
lab(pc, -0.057, 4.24, "0.02 V", 12, "black", "right", "c3")
lab(pc, 0.59, 4.24, "0.45 V", 12, "black", "left", "c3")
lab(pc, 0.043, 2.56, "a₀", 13, "black", "center", "c3", "normal")
lab(pc, 0.51, 2.56, "b₀", 13, "black", "center", "c3", "normal")
lab(pc, -0.465, -2.5, "b", 13, "black", "center", "c3", "normal")
lab(pc, -0.04, -2.37, "a", 13, "black", "center", "c3", "normal")
lab(pc, 0.105, -2.8, "-0.02 V", 12, "black", "left", "c3")
lab(pc, -0.54, -3.88, "-0.45 V", 12, "black", "right", "c3")
lab(pc, -0.12, -4.45, "CNTs/Gh-Tb³⁺/⁴⁺", 15, RED, "left", "c3")

# ================= panel d =================
pd = base_fig(268, 512, Range1d(-300, 60500), Range1d(0, 4), 41, 3, 6, 45)
pd.extra_y_ranges = {"d%d" % k: band_range(D_BAND[0], D_BAND[1], k) for k in range(4)}
d_curves = [(D_GH_T, D_GH_I, "#9b9b9b"), (D_T3_T, D_T3_I, "#1c67a8"),
            (D_T4_T, D_T4_I, "#f9c22a"), (D_T34_T, D_T34_I, "#e30f14")]
for k, (t, cur, fc) in enumerate(d_curves):
    yn = "d%d" % k
    pd.varea(x=D_STRIP_T, y1=D_STRIP_LO, y2=D_STRIP_HI, fill_color="#f8f39a", y_range_name=yn)
    pd.line(D_STRIP_T, D_STRIP_HI, line_color="#666666", line_width=1, y_range_name=yn)
    pd.varea(x=t, y1=0, y2=cur, fill_color=fc, y_range_name=yn)
    pd.line(t, cur, line_color="#555555", line_width=0.9, y_range_name=yn)
    pd.patch(D_SPIKE_T, D_SPIKE_I, fill_color="#22cc22", line_color="#22cc22", y_range_name=yn)
for loc in (1, 2, 3):
    divider(pd, loc)
pd.segment(x0=[D_SCALE_T, D_SCALE_T - 800, D_SCALE_T - 800],
           y0=[D_SCALE_I0, D_SCALE_I0, D_SCALE_I0 + D_SCALE_LEN],
           x1=[D_SCALE_T, D_SCALE_T + 800, D_SCALE_T + 800],
           y1=[D_SCALE_I0 + D_SCALE_LEN, D_SCALE_I0, D_SCALE_I0 + D_SCALE_LEN],
           line_color="black", line_width=2, y_range_name="d0")
style_axes(pd, "13px", "16px", "Time (s)", "Current (mA)", [0, 18000, 36000, 54000],
           [9000, 27000, 45000], [], [], tick_in=True, xstand=0, ylabel_size="19px", lab_standoff=3)
letter_main(pd, "d", 3.922, 14, -6)
lab(pd, D_SCALE_T + 1600, D_SCALE_I0 + D_SCALE_LEN / 2, "0.15 mA", 15, "black", "left", "d0")
d_texts = [("7430 s", 4000, 0.311, "197 mAh g⁻¹", 14667, 0.164, "CNTs/Gh", 0.053, "black"),
           ("4730 s", 1778, 0.482, "229 mAh g⁻¹", 8444, 0.261, "CNTs/Gh-Tb³⁺", 0.066, "#1c67a8"),
           ("5238 s", 1333, 0.507, "283 mAh g⁻¹", 9956, 0.243, "CNTs/Gh-Tb⁴⁺", 0.078, "#f9c22a"),
           ("3604 s", 1333, 0.541, "351 mAh g⁻¹", 9333, 0.255, "CNTs/Gh-Tb³⁺/⁴⁺", 0.05, RED)]
for k, (t1, x1, y1, t2, x2, y2, t3, y3, col) in enumerate(d_texts):
    yn = "d%d" % k
    lab(pd, x1, y1, t1, 13, "black", "left", yn)
    lab(pd, x2, y2, t2, 13, "black", "left", yn)
    lab(pd, 59111, y3, t3, 16, col, "right", yn)

# ================= panel e =================
pe = base_fig(270, 214, Range1d(0, 1485), Range1d(1.51, 3.4), 48, 13, 2, 42)
e_series = [(BLK, E_GH_DIS_CAP, E_GH_DIS_CCV, E_GH_DIS_OCV, E_GH_CHG_CAP, E_GH_CHG_CCV, E_GH_CHG_OCV, LBL_GH),
            (BLU, E_T3_DIS_CAP, E_T3_DIS_CCV, E_T3_DIS_OCV, E_T3_CHG_CAP, E_T3_CHG_CCV, E_T3_CHG_OCV, LBL_T3),
            (YEL, E_T4_DIS_CAP, E_T4_DIS_CCV, E_T4_DIS_OCV, E_T4_CHG_CAP, E_T4_CHG_CCV, E_T4_CHG_OCV, LBL_T4),
            (RED, E_T34_DIS_CAP, E_T34_DIS_CCV, E_T34_DIS_OCV, E_T34_CHG_CAP, E_T34_CHG_CCV, E_T34_CHG_OCV, LBL_T34)]
e_items = []
for col, dc, dccv, docv, cc, cccv, cocv, lbl in e_series:
    for x, y1, y2 in ((dc, dccv, docv), (cc, cocv, cccv)):
        pe.varea(x=x, y1=y1, y2=y2, fill_color=col, fill_alpha=0.35, hatch_pattern="|",
                 hatch_color=col, hatch_scale=3, hatch_weight=1)
    r = pe.line(dc, dccv, line_color=col, line_width=1.6)
    pe.line(cc, cccv, line_color=col, line_width=1.6)
    e_items.append(LegendItem(label=lbl, renderers=[r]))
# a few trailing no-break spaces push the (centred) label text slightly down, as in the reference
style_axes(pe, "14px", "16px", "Specific capacity (mAh g⁻¹)", "Voltage vs.Li/Li⁺ (V)" + "\u00a0" * 3,
           [0, 350, 700, 1050, 1400], [175, 525, 875, 1225], [1.6, 2.0, 2.4, 2.8, 3.2],
           [1.8, 2.2, 2.6, 3.0], ystand=0, ylabel_size="15px")
letter_outer(pe, "e", 3.378, 13)
legend(pe, e_items, (5, 92), size="13px", gw=24, gh=16, spacing=1, standoff=5, line_height=1.0)
for txt, x, y in [("I", 107, 2.433), ("II", 235, 1.99), ("III", 782, 1.92), ("IV", 1294, 2.244)]:
    lab(pe, x, y, txt, 17, "#333333", "center", "default", "normal", SERIF)

# ================= panel f =================
pf = base_fig(270, 214, Range1d(0.74, 4.2), Range1d(-0.026, 4.49), 35, 23, 1, 39)
pf.extra_x_ranges = {"ix": Range1d(0.225, 5.525)}
pf.extra_y_ranges = {"iy": Range1d(0.0321, 0.405)}
f_items = []
for vals, col, lbl in [(F_GH, BLK, LBL_GH), (F_T3, BLU, LBL_T3), (F_T4, YEL, LBL_T4), (F_T34, RED, LBL_T34)]:
    rl = pf.line(F_STEP, vals, line_color=col, line_width=1.6, line_dash="6 4")
    rs = pf.scatter(F_STEP, vals, marker="star", size=16, fill_color=col, line_color=col)
    f_items.append(LegendItem(label=lbl, renderers=[rl, rs]))
bx0, bx1, by0, by1 = F_INSET_BOX
pf.quad(left=bx0, right=bx1, bottom=by0, top=by1, fill_color="white", line_color="black",
        line_width=1.2, x_range_name="ix", y_range_name="iy")
for vals, col in [(F_INSET_T3, BLU), (F_INSET_T4, YEL), (F_INSET_GH, BLK)]:
    pf.line(F_INSET_X, vals, line_color=col, line_width=1.1, x_range_name="ix", y_range_name="iy")
    pf.scatter(F_INSET_X[:2], vals[:2], marker="star", size=8, fill_color=col, line_color=col,
               x_range_name="ix", y_range_name="iy")
pf.segment(x0=[bx0] * len(F_INSET_YTICKS), y0=F_INSET_YTICKS, x1=[bx0 + 0.06] * len(F_INSET_YTICKS),
           y1=F_INSET_YTICKS, line_color="black", line_width=1, x_range_name="ix", y_range_name="iy")
pf.segment(x0=F_INSET_XTICKS, y0=[by0] * 2, x1=F_INSET_XTICKS, y1=[by0 + 0.004] * 2,
           line_color="black", line_width=1, x_range_name="ix", y_range_name="iy")
for tv in F_INSET_YTICKS:
    pf.add_layout(Label(x=bx0 - 0.05, y=tv, text="%.2f" % tv, text_font=FONT, text_font_style="bold",
                        text_font_size="8px", text_align="right", text_baseline="middle",
                        x_range_name="ix", y_range_name="iy"))
for tv in F_INSET_XTICKS:
    pf.add_layout(Label(x=tv, y=by0 - 0.003, text="%d" % tv, text_font=FONT, text_font_style="bold",
                        text_font_size="8px", text_align="center", text_baseline="top",
                        x_range_name="ix", y_range_name="iy"))
style_axes(pf, "14px", "16px", "Reaction step", "DLi⁺ (10⁻⁸ cm⁻¹ S⁻¹)", [1, 2, 3, 4],
           [1.5, 2.5, 3.5], [0, 1, 2, 3, 4], [0.5, 1.5, 2.5, 3.5], ystand=0)
letter_outer(pf, "f", 4.234, 6)
legend(pf, f_items[::-1], (8, 96), size="12px", gw=27, gh=16, spacing=1, standoff=4, line_height=1.0)

# ================= panel g =================
pg = base_fig(530, 232, Range1d(2.9, 1.6), Range1d(1.72, 12.02), 49, 10, 8, 40)
pg.quad(left=G_REGION_EDGES[:2], right=G_REGION_EDGES[1:], bottom=1.72, top=12.02,
        fill_color=["#d8f2f8", "#fdf4dc"], line_color=None)
pg.add_layout(Span(location=G_REGION_EDGES[1], dimension="height", line_color="#9a9a9a", line_width=1))
g_r = {}
for vals, col, key in [(G_GH, BLK, "gh"), (G_T4, YEL, "t4"), (G_T3, BLU, "t3"), (G_T34, RED, "t34")]:
    rl = pg.line(G_V, vals, line_color=col, line_width=1.5)
    rs = pg.scatter(G_V, vals, marker="star", size=16, fill_color=col, line_color=col)
    g_r[key] = [rl, rs]
style_axes(pg, "15px", "16px", "Voltage vs. Li/Li⁺ (V)", "Ea (KJ mol⁻¹)",
           [2.8, 2.6, 2.4, 2.2, 2.0, 1.8, 1.6], [2.7, 2.5, 2.3, 2.1, 1.9, 1.7], [3, 6, 9, 12],
           [4.5, 7.5, 10.5], ystand=0)
letter_outer(pg, "g", 11.5, 11)
legend(pg, [LegendItem(label=LBL_T34, renderers=g_r["t34"]), LegendItem(label=LBL_T4, renderers=g_r["t4"])],
       (8, 159), "horizontal", "15px", 28, 16, 132, 10, 7)
legend(pg, [LegendItem(label=LBL_T3, renderers=g_r["t3"]), LegendItem(label=LBL_GH, renderers=g_r["gh"])],
       (8, 128), "horizontal", "15px", 28, 16, 132, 10, 7)
lab(pg, 2.2, 2.57, "LCR", 17, RED, "center")
lab(pg, 1.733, 2.48, "SCR", 17, RED, "center")

# ================= panel h =================
ph = base_fig(550, 232, Range1d(1.5, 2.9), Range1d(-0.1, 21.9), 54, 7, 6, 40)
ph.quad(left=H_REGION_EDGES[:2], right=H_REGION_EDGES[1:], bottom=-0.1, top=21.9,
        fill_color=["#fdf4dc", "#d8f2f8"], line_color=None)
ph.add_layout(Span(location=H_REGION_EDGES[1], dimension="height", line_color="#9a9a9a", line_width=1))
h_r = {}
for vals, col, key in [(H_GH, BLK, "gh"), (H_T4, YEL, "t4"), (H_T3, BLU, "t3"), (H_T34, RED, "t34")]:
    rl = ph.line(H_V, vals, line_color=col, line_width=1.5)
    rs = ph.scatter(H_V, vals, marker="star", size=16, fill_color=col, line_color=col)
    h_r[key] = [rl, rs]
for xs, ys in H_FIT_GREEN:
    ph.line(xs, ys, line_color="#1f9a1f", line_width=1.5)
for xs, ys in H_FIT_PINK:
    ph.line(xs, ys, line_color="#f062b8", line_width=1.5)
style_axes(ph, "15px", "16px", "Voltage vs. Li/Li⁺ (V)", "Ea (KJ mol⁻¹)",
           [1.6, 1.8, 2.0, 2.2, 2.4, 2.6, 2.8], [1.7, 1.9, 2.1, 2.3, 2.5, 2.7], [0, 5, 10, 15, 20],
           [2.5, 7.5, 12.5, 17.5], ystand=0)
letter_outer(ph, "h", 20.83, 2)
legend(ph, [LegendItem(label=LBL_T34, renderers=h_r["t34"]), LegendItem(label=LBL_T4, renderers=h_r["t4"])],
       (154, 164), "horizontal", "15px", 28, 16, 138, 9, 6)
legend(ph, [LegendItem(label=LBL_T3, renderers=h_r["t3"]), LegendItem(label=LBL_GH, renderers=h_r["gh"])],
       (154, 134), "horizontal", "15px", 28, 16, 138, 9, 6)
lab(ph, 2.228, 0.87, "SCR", 17, RED, "center")
lab(ph, 2.481, 0.87, "LCR", 17, RED, "center")

layout = column(row(column(row(pa, pb), row(pe, pf)), pc, pd), row(pg, ph))
open("out.html", "w").write(file_html(layout, INLINE))
